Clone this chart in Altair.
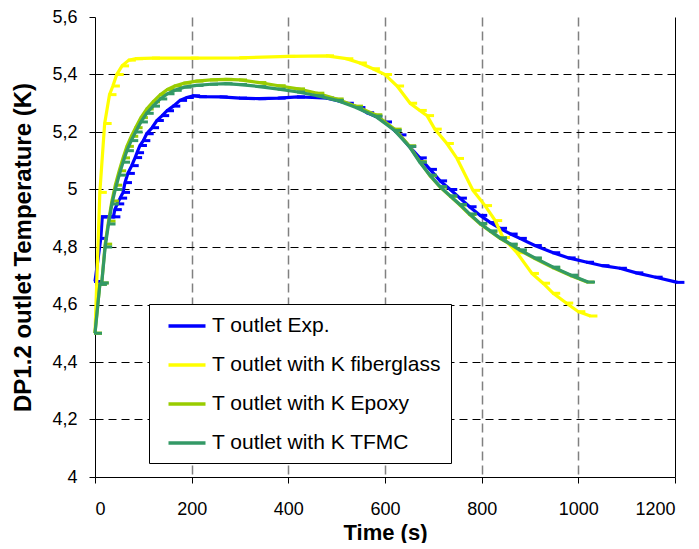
import altair as alt
import pandas as pd

series_names = ["T outlet Exp.", "T outlet with K fiberglass", "T outlet with K Epoxy", "T outlet with K TFMC"]
series_colors = ["#0000FF", "#FFFF00", "#99CC00", "#339966"]

exp_t = [0, 12, 15, 28, 38, 41, 46, 52, 58, 62, 68, 76, 83, 87, 93, 100, 107, 118, 128, 139, 149, 162,
         176, 190, 203, 217, 260, 300, 340, 380, 420, 450, 480, 500, 521, 545, 563, 580, 600, 630, 650,
         672, 693, 714, 735, 755, 775, 797, 818, 838, 860, 879, 910, 948, 980, 1018, 1050, 1086, 1120,
         1160, 1205]
exp_T = [4.68, 4.83, 4.905, 4.905, 4.905, 4.93, 4.95, 4.97, 4.99, 5.024, 5.056, 5.083, 5.111, 5.128,
         5.153, 5.17, 5.194, 5.215, 5.24, 5.257, 5.274, 5.29, 5.31, 5.32, 5.326, 5.323, 5.322, 5.318,
         5.316, 5.318, 5.322, 5.32, 5.318, 5.31, 5.30, 5.285, 5.267, 5.255, 5.235, 5.19, 5.15, 5.11,
         5.07, 5.03, 5.0, 4.97, 4.94, 4.91, 4.885, 4.865, 4.845, 4.83, 4.805, 4.78, 4.762, 4.747, 4.735,
         4.726, 4.71, 4.695, 4.677]

fib_t = [0, 10, 20, 30, 37, 45, 56, 70, 85, 120, 200, 300, 400, 480, 520, 548, 575, 600, 625, 652,
         672, 687, 703, 728, 749, 782, 807, 828, 844, 873, 904, 927, 948, 975, 1000, 1025]
fib_T = [4.50, 4.99, 5.23, 5.33, 5.36, 5.40, 5.43, 5.45, 5.455, 5.457, 5.457, 5.458, 5.463, 5.465,
         5.455, 5.44, 5.42, 5.40, 5.36, 5.30, 5.275, 5.257, 5.21, 5.16, 5.108, 4.997, 4.944, 4.892,
         4.833, 4.78, 4.708, 4.674, 4.639, 4.605, 4.575, 4.56]

epo_t = [0, 10, 14, 21, 28, 35, 42, 50, 58, 66, 75, 84, 95, 107, 120, 135, 150, 165, 185, 210, 240,
         270, 300, 340, 380, 420, 460, 500, 540, 580, 620, 650, 672, 693, 714, 735, 755, 775, 797, 818,
         838, 860, 879, 910, 948, 985, 1018]
epo_T = [4.50, 4.67, 4.675, 4.81, 4.89, 4.96, 5.015, 5.065, 5.11, 5.15, 5.185, 5.215, 5.25, 5.28,
         5.305, 5.33, 5.348, 5.36, 5.37, 5.377, 5.381, 5.383, 5.381, 5.372, 5.361, 5.35, 5.335, 5.315,
         5.29, 5.26, 5.21, 5.152, 5.097, 5.048, 5.008, 4.976, 4.946, 4.913, 4.880, 4.854, 4.830,
         4.808, 4.788, 4.760, 4.728, 4.700, 4.678]

tfm_t = [0, 10, 14, 21, 28, 35, 42, 50, 58, 66, 75, 84, 95, 107, 120, 135, 150, 165, 185, 210, 240,
         270, 300, 340, 380, 420, 460, 500, 540, 580, 620, 650, 672, 693, 714, 735, 755, 775, 797, 818,
         838, 860, 879, 910, 948, 985, 1020]
tfm_T = [4.50, 4.67, 4.675, 4.80, 4.88, 4.95, 5.00, 5.05, 5.095, 5.135, 5.17, 5.20, 5.235, 5.265,
         5.29, 5.315, 5.333, 5.345, 5.356, 5.362, 5.366, 5.368, 5.365, 5.358, 5.349, 5.339, 5.326,
         5.31, 5.285, 5.255, 5.205, 5.15, 5.095, 5.05, 5.01, 4.978, 4.948, 4.915, 4.882, 4.856, 4.832,
         4.81, 4.79, 4.762, 4.73, 4.702, 4.678]

x_ticks = [0, 200, 400, 600, 800, 1000, 1200]
y_ticks = [4.0, 4.2, 4.4, 4.6, 4.8, 5.0, 5.2, 5.4, 5.6]

rows = []
for name, ts, Ts in zip(series_names, [exp_t, fib_t, epo_t, tfm_t], [exp_T, fib_T, epo_T, tfm_T]):
    for i, (t, T) in enumerate(zip(ts, Ts)):
        rows.append({"series": name, "t": t, "T": T, "ord": i})
df = pd.DataFrame(rows)

FONT = "Liberation Sans"

x_enc = alt.X("t:Q", scale=alt.Scale(domain=[0, 1200], nice=False),
              axis=alt.Axis(values=x_ticks, title="Time (s)", format="d",
                            grid=True,
                            gridColor={"condition": {"test": "datum.value == 1200", "value": "#000000"}, "value": "#808080"},
                            gridDash={"condition": {"test": "datum.value == 1200", "value": []}, "value": [9, 5]},
                            gridWidth={"condition": {"test": "datum.value == 1200", "value": 1}, "value": 1.5},
                            gridOpacity={"condition": {"test": "datum.value == 0", "value": 0}, "value": 1},
                            labelFontSize=18, labelPadding=17, tickSize=6,
                            titleFontSize=22, titlePadding=4))
y_enc = alt.Y("T:Q", scale=alt.Scale(domain=[4, 5.6], nice=False),
              axis=alt.Axis(values=y_ticks, title="DP1.2 outlet Temperature (K)",
                            labelExpr="replace(format(datum.value, '.1~f'), '.', ',')",
                            grid=True, gridColor="#000000", gridDash=[8, 5], gridWidth=1,
                            gridOpacity={"condition": {"test": "datum.value == 4 || datum.value == 5.6", "value": 0}, "value": 1},
                            labelFontSize=18, labelPadding=12, tickSize=6,
                            titleFontSize=24, titlePadding=16))

color_scale = alt.Scale(domain=series_names, range=series_colors)
legend = alt.Legend(orient="none", legendX=54, legendY=287, title=None,
                    fillColor="white", strokeColor="black", padding=10,
                    labelFontSize=21, labelFont=FONT, labelColor="black",
                    symbolType="M-1.85,0L1.85,0", symbolSize=400, symbolStrokeWidth=3.5,
                    rowPadding=17, labelOffset=13, symbolOffset=16, labelLimit=400)

base = alt.Chart(df)
layers = []
for name in series_names:
    sub = base.transform_filter(alt.datum.series == name)
    line = sub.mark_line(strokeWidth=3.2).encode(
        x=x_enc, y=y_enc,
        color=alt.Color("series:N", scale=color_scale, legend=legend),
        order="ord:Q")
    ticks = sub.mark_tick(orient="horizontal", size=8, thickness=3, xOffset=3, opacity=1).encode(
        x=x_enc, y=y_enc,
        color=alt.Color("series:N", scale=color_scale, legend=None))
    layers += [line, ticks]

chart = alt.layer(*layers).properties(
    width=580, height=460,
    autosize=alt.AutoSizeParams(type="none"),
    padding={"left": 87, "top": 9, "right": 16, "bottom": 66},
).configure(font=FONT).configure_view(stroke=None).configure_axis(
    domainColor="black", domainWidth=1, tickColor="black", labelColor="black",
    titleColor="black", labelFont=FONT, titleFont=FONT, titleFontWeight="bold"
)

chart.save("out.html", embed_options={"renderer": "svg", "actions": False})
